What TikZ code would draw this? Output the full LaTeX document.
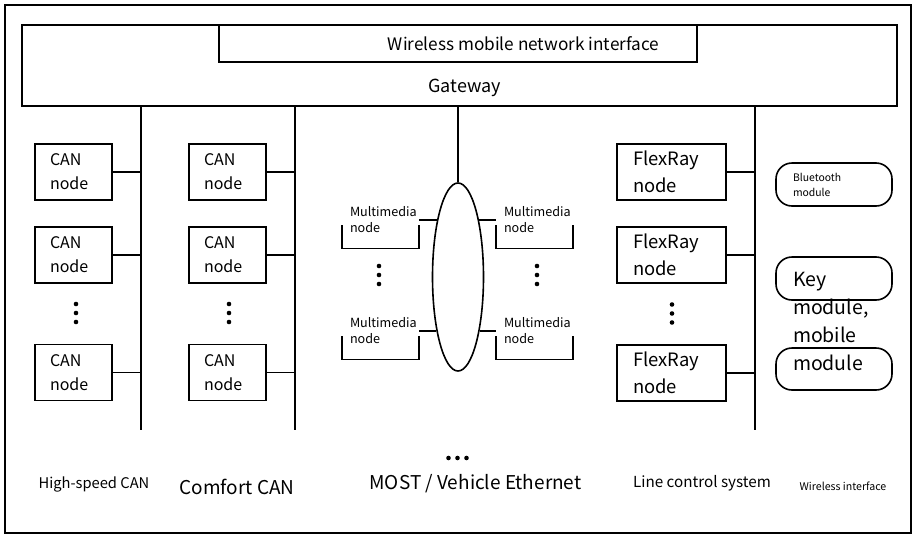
\documentclass[tikz,border=0pt]{standalone}
\usepackage{fontspec}
\setmainfont{Noto Sans CJK SC}
\usetikzlibrary{shapes.geometric}
\tikzset{
    bus/.style={line width=1.6pt},
    unit/.style={
        rectangle,
        draw=black,
        bus,
        align=left,
        minimum height=56pt,
        inner ysep=0pt
    },
    cannode/.style={
        unit,
        text width=47pt,
        inner xsep=15pt,
        font=\fontsize{16}{24}\selectfont
    },
    flexnode/.style={
        unit,
        text width=77pt,
        inner xsep=16pt,
        font=\fontsize{18.4}{27}\selectfont
    },
    mmnode/.style={
        align=left,
        text width=61pt,
        inner xsep=8pt,
        inner ysep=15pt,
        font=\fontsize{12.6}{16}\selectfont
    },
    module/.style={
        rectangle,
        draw=black,
        bus,
        rounded corners=16pt,
        minimum width=116pt
    },
    busname/.style={
        font=\fontsize{#1}{#1}\selectfont
    }
}
\begin{document}
\begin{tikzpicture}[x=1pt,y=-1pt]
    \useasboundingbox (0,0) rectangle (921,541);
    \node[draw,line width=2.2pt,minimum width=906pt,minimum height=528pt] (frame) at (458,269) {};

    \node[rectangle,draw,bus,minimum width=875pt,minimum height=81pt] (gw) at (459.5,65.5) {};
    \node[rectangle,draw,bus,minimum width=478pt,minimum height=37pt] (wmi) at (458,43.5) {};
    \node[busname=17.2] (wmitext) at (523.5,44) {Wireless mobile network interface};
    \node[busname=18] (gwtext) at (464.5,88) {Gateway};

    \coordinate (b1) at (141,430);
    \coordinate (b2) at (295,430);
    \coordinate (b4) at (755,430);
    \path[draw,bus] (b1 |- gw.south) edge (b1);
    \path[draw,bus] (b2 |- gw.south) edge (b2);
    \path[draw,bus] (b4 |- gw.south) edge (b4);

    \node[cannode] (hs1) at (73.5,172) {CAN\\node};
    \node[cannode] (hs2) at (73.5,255) {CAN\\node};
    \node[cannode] (hs3) at (73.5,372.5) {CAN\\node};
    \node[cannode] (cf1) at (227.5,172) {CAN\\node};
    \node[cannode] (cf2) at (227.5,255) {CAN\\node};
    \node[cannode] (cf3) at (227.5,372.5) {CAN\\node};
    \foreach \n in {hs1,hs2,hs3}
        \path[draw,bus] (\n.east) edge (\n.east -| b1);
    \foreach \n in {cf1,cf2,cf3}
        \path[draw,bus] (\n.east) edge (\n.east -| b2);

    \node[flexnode] (fr1) at (671.5,172) {FlexRay\\node};
    \node[flexnode] (fr2) at (671.5,255) {FlexRay\\node};
    \node[flexnode] (fr3) at (671.5,373) {FlexRay\\node};
    \foreach \n in {fr1,fr2,fr3}
        \path[draw,bus] (\n.east) edge (\n.east -| b4);

    \node[ellipse,draw,bus,minimum width=51pt,minimum height=188pt,inner sep=0pt] (ring) at (458,277) {};
    \path[draw,bus] (ring.north) edge (ring.north |- gw.south);
    \node[mmnode] (mm1) at (380.5,220) {Multimedia\\node};
    \node[mmnode] (mm2) at (534.5,220) {Multimedia\\node};
    \node[mmnode] (mm3) at (380.5,331) {Multimedia\\node};
    \node[mmnode] (mm4) at (534.5,331) {Multimedia\\node};
    \foreach \n in {mm1,mm2,mm3,mm4}
        \draw[bus] ([yshift=23pt]\n.south west) -- (\n.south west) -- (\n.south east) -- ([yshift=23pt]\n.south east);
    \path[draw,bus] (mm1.east) edge (mm1.east -| ring.108);
    \path[draw,bus] (mm2.west) edge (mm2.west -| ring.72);
    \path[draw,bus] (mm3.east) edge (mm3.east -| ring.248);
    \path[draw,bus] (mm4.west) edge (mm4.west -| ring.292);

    \node[module,minimum height=43pt,align=left,text width=82pt,inner xsep=17pt,
        font=\fontsize{10.4}{15}\selectfont] (bt) at (834,184.5) {Bluetooth\\module};
    \node[module,minimum height=43pt] (key1) at (834,278.5) {};
    \node[module,minimum height=42pt] (key2) at (834,369) {};
    \node[align=left,text width=82pt,inner sep=0pt,
        font=\fontsize{19.5}{28}\selectfont] (keytext) at (834,321.5) {Key\\module,\\mobile\\module};

    \foreach \x/\y in {76/313,229/313,379/275,537/275,672/313.5}
        \foreach \k in {-9,0,9}
            \fill (\x,\y+\k) circle (2.3pt);
    \foreach \k in {-9,0,9}
        \fill (457.5+\k,458) circle (2.3pt);

    \node[busname=14.7] (hscan) at (94,484) {High-speed CAN};
    \node[busname=19] (comfort) at (237,487) {Comfort CAN};
    \node[busname=19] (most) at (475.5,484) {MOST / Vehicle Ethernet};
    \node[busname=15.2] (lcs) at (702,483) {Line control system};
    \node[busname=10.6] (wif) at (843,486) {Wireless interface};
\end{tikzpicture}
\end{document}
